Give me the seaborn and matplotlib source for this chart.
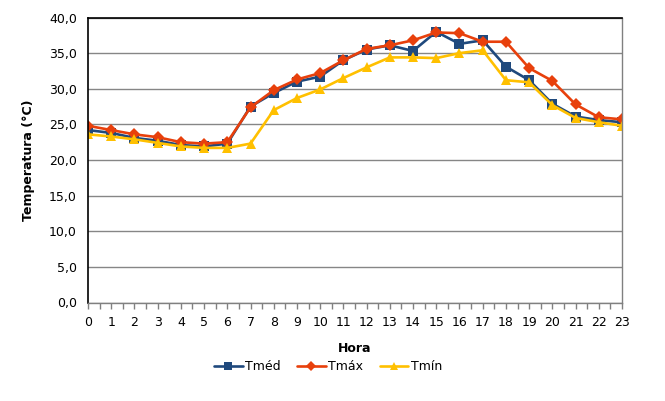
import numpy as np
import pandas as pd
import matplotlib
matplotlib.use("Agg")
import matplotlib.pyplot as plt
from matplotlib.lines import Line2D
import seaborn as sns

hours = list(range(24))
t_med = [24.2, 23.8, 23.1, 22.7, 22.1, 21.9, 22.3, 27.5, 29.4, 31.0, 31.7, 34.0, 35.5, 36.1,
         35.3, 38.0, 36.3, 36.8, 33.1, 31.2, 27.9, 26.1, 25.6, 25.3]
t_max = [24.8, 24.2, 23.6, 23.2, 22.5, 22.3, 22.5, 27.4, 29.8, 31.3, 32.2, 34.0, 35.6, 36.1,
         36.8, 37.9, 37.8, 36.6, 36.6, 32.9, 31.1, 27.8, 26.0, 25.7]
t_min = [23.6, 23.3, 22.9, 22.4, 21.9, 21.7, 21.7, 22.3, 27.0, 28.7, 29.9, 31.5, 33.0, 34.4,
         34.4, 34.3, 35.0, 35.4, 31.2, 30.9, 27.7, 25.9, 25.3, 24.8]
series_names = ["Tméd", "Tmáx", "Tmín"]
y_ticks = [0, 5, 10, 15, 20, 25, 30, 35, 40]

df = pd.DataFrame({
    "Hora": hours * 3,
    "Temp": t_med + t_max + t_min,
    "Serie": [series_names[0]] * 24 + [series_names[1]] * 24 + [series_names[2]] * 24,
})

sns.set_style("white")
plt.rcParams["font.family"] = ["DejaVu Sans"]
plt.rcParams["text.color"] = "black"
plt.rcParams["axes.labelcolor"] = "black"
plt.rcParams["xtick.color"] = "black"
plt.rcParams["ytick.color"] = "black"

fig = plt.figure(figsize=(6.65, 4.01), dpi=100)
ax = fig.add_axes([88 / 665, 1 - 302.5 / 401, (622 - 88) / 665, (302.5 - 17.5) / 401])

palette = {"Tméd": "#1F497D", "Tmáx": "#E8400C", "Tmín": "#FFC000"}
markers = {"Tméd": "s", "Tmáx": "D", "Tmín": "^"}
msize = {"Tméd": 6.5, "Tmáx": 6, "Tmín": 7}

for name in series_names:
    sub = df[df["Serie"] == name]
    sns.lineplot(data=sub, x="Hora", y="Temp", ax=ax, color=palette[name],
                 marker=markers[name], markersize=msize[name], markeredgewidth=0,
                 linewidth=1.9, legend=False)

ax.set_xlim(0, 23)
ax.set_ylim(0, 40)
ax.set_yticks(y_ticks)
ax.set_yticklabels([f"{v:.1f}".replace(".", ",") for v in y_ticks], fontsize=9)
ax.set_xticks(hours)
ax.set_xticklabels([str(h) for h in hours], fontsize=9)
ax.set_xticks(np.arange(0.5, 23, 1.0), minor=True)
ax.tick_params(axis="x", which="both", direction="out", length=4, color="#808080",
               bottom=True, pad=6, width=1)
ax.tick_params(axis="y", length=0, pad=8)
ax.grid(axis="y", color="#868686", linewidth=1)
ax.set_axisbelow(True)

for side, col, lw in [("left", "black", 1.2), ("top", "black", 1.2),
                      ("bottom", "#808080", 1.0), ("right", "#808080", 1.0)]:
    ax.spines[side].set_visible(True)
    ax.spines[side].set_color(col)
    ax.spines[side].set_linewidth(lw)

ax.set_xlabel("")
ax.set_ylabel("Temperatura (°C)", fontsize=9, fontweight="bold", labelpad=10)
fig.text(0.5 * (88 + 622) / 665, 1 - 348 / 401, "Hora", fontsize=9, fontweight="bold",
         ha="center", va="center")

handles = [Line2D([], [], color=palette[n], marker=markers[n], markersize=5.5,
                  markeredgewidth=0, linewidth=1.9) for n in series_names]
fig.legend(handles, series_names, loc="center", bbox_to_anchor=(328 / 665, 1 - 367 / 401),
           ncol=3, frameon=False, fontsize=9, handlelength=2.3, columnspacing=1.3,
           handletextpad=0.2)

fig.savefig("out.png", dpi=100)
